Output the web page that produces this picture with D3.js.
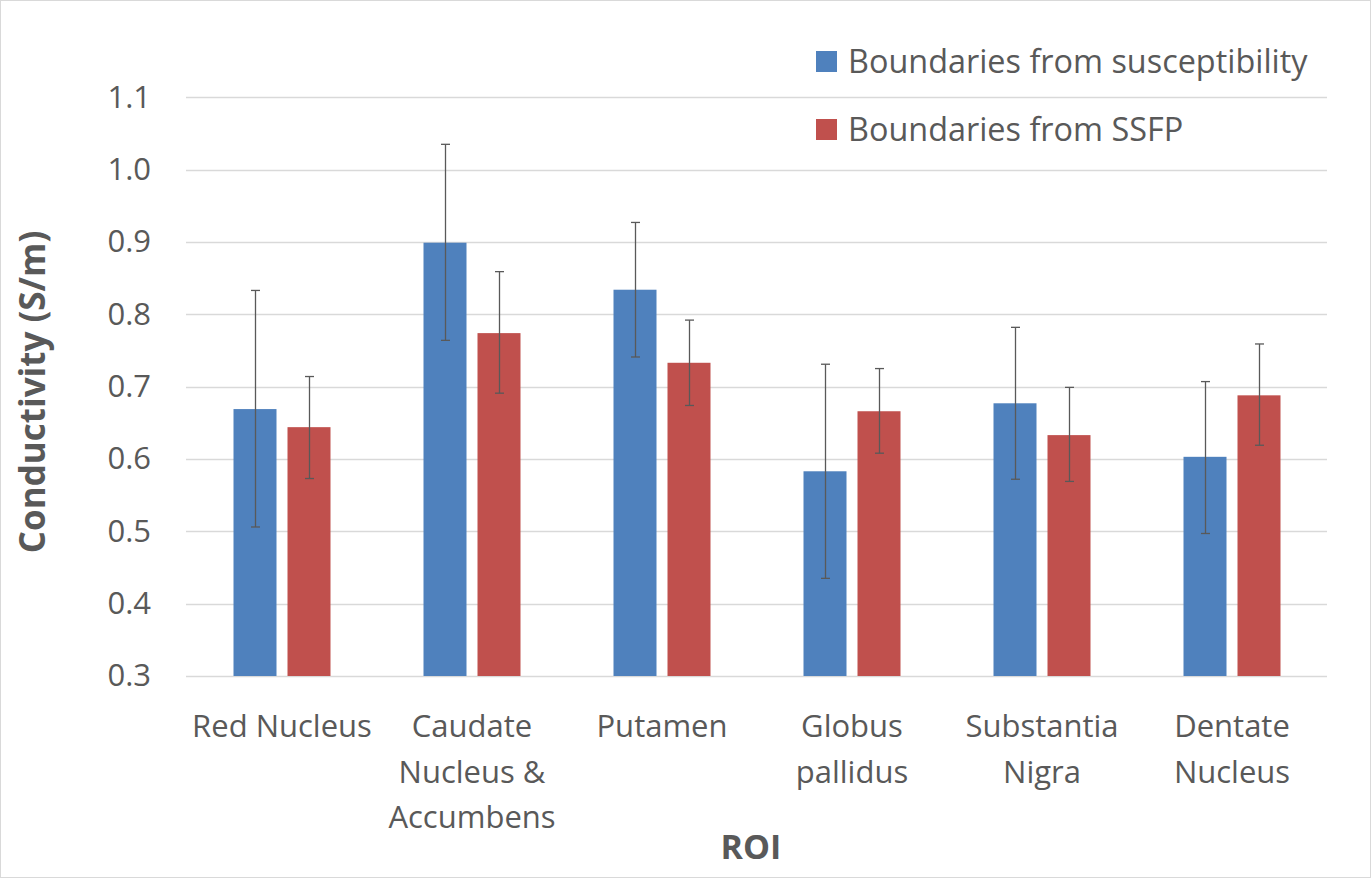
<!DOCTYPE html>
<html>
<head>
  <style>
    body { margin: 0; background: #fff; }
    text { font-family: "Open Sans", sans-serif; fill: #595959; }
  </style>
  <title>Conductivity by ROI</title>
</head>
<body>
  <script src="https://cdn.jsdelivr.net/npm/d3@7"></script>
  <script>
    // data
    var categories = [["Red Nucleus"], ["Caudate", "Nucleus &", "Accumbens"], ["Putamen"],
                      ["Globus", "pallidus"], ["Substantia", "Nigra"], ["Dentate", "Nucleus"]];
    var seriesNames = ["Boundaries from susceptibility", "Boundaries from SSFP"];
    var suscMean = [0.669, 0.899, 0.834, 0.583, 0.677, 0.603];
    var suscHigh = [0.833, 1.035, 0.927, 0.731, 0.782, 0.707];
    var suscLow  = [0.506, 0.764, 0.741, 0.435, 0.572, 0.497];
    var ssfpMean = [0.644, 0.774, 0.733, 0.666, 0.633, 0.688];
    var ssfpHigh = [0.714, 0.859, 0.792, 0.725, 0.699, 0.759];
    var ssfpLow  = [0.573, 0.691, 0.674, 0.608, 0.569, 0.619];
    var yTicks = [0.3, 0.4, 0.5, 0.6, 0.7, 0.8, 0.9, 1.0, 1.1];
    var colors = ["#4f81bd", "#c0504d"];

    var width = 1371, height = 878;
    var plotLeft = 187, plotRight = 1327, plotTop = 97.3, plotBottom = 676;

    var svg = d3.select("body").append("svg")
      .attr("width", width)
      .attr("height", height);

    // outer border
    svg.append("rect")
      .attr("x", 0.5).attr("y", 0.5)
      .attr("width", width - 1).attr("height", height - 1)
      .attr("fill", "none").attr("stroke", "#d9d9d9");

    var x = d3.scaleBand().domain(d3.range(categories.length)).range([plotLeft, plotRight]);
    var y = d3.scaleLinear().domain([0.3, 1.1]).range([plotBottom, plotTop]);

    var barW = 43, barGap = 11;

    // gridlines
    svg.append("g").selectAll("line")
      .data(yTicks)
      .enter().append("line")
      .attr("x1", plotLeft - 1).attr("x2", plotRight)
      .attr("y1", function(d) { return Math.round(y(d)) + 0.5; })
      .attr("y2", function(d) { return Math.round(y(d)) + 0.5; })
      .attr("stroke", "#d9d9d9").attr("stroke-width", 1.3);

    // y axis labels
    var yAxis = d3.axisLeft(y).tickValues(yTicks).tickFormat(d3.format(".1f")).tickSize(0).tickPadding(0);
    var ya = svg.append("g").attr("transform", "translate(151,0)").call(yAxis);
    ya.select(".domain").remove();
    ya.selectAll("text").attr("font-size", 31).style("font-family", "Open Sans").attr("fill", "#595959");

    var series = [
      { mean: suscMean, hi: suscHigh, lo: suscLow, off: -(barW + barGap) / 2 },
      { mean: ssfpMean, hi: ssfpHigh, lo: ssfpLow, off: (barW + barGap) / 2 }
    ];

    series.forEach(function(s, si) {
      var g = svg.append("g");
      g.selectAll("rect")
        .data(s.mean)
        .enter().append("rect")
        .attr("x", function(d, i) { return x(i) + x.bandwidth() / 2 + s.off - barW / 2; })
        .attr("y", function(d) { return y(d); })
        .attr("width", barW)
        .attr("height", function(d) { return plotBottom - y(d); })
        .attr("fill", colors[si]);

      // error bars
      var eb = svg.append("g").attr("stroke", "#595959").attr("stroke-width", 1.3);
      s.mean.forEach(function(d, i) {
        var cx = Math.round(x(i) + x.bandwidth() / 2 + s.off) + 0.5;
        eb.append("line").attr("x1", cx).attr("x2", cx).attr("y1", y(s.hi[i])).attr("y2", y(s.lo[i]));
        eb.append("line").attr("x1", cx - 4.5).attr("x2", cx + 4.5).attr("y1", y(s.hi[i])).attr("y2", y(s.hi[i]));
        eb.append("line").attr("x1", cx - 4.5).attr("x2", cx + 4.5).attr("y1", y(s.lo[i])).attr("y2", y(s.lo[i]));
      });
    });

    // category labels
    var cl = svg.append("g");
    categories.forEach(function(lines, i) {
      var t = cl.append("text")
        .attr("text-anchor", "middle")
        .attr("x", x(i) + x.bandwidth() / 2)
        .attr("y", 737)
        .attr("font-size", 31);
      lines.forEach(function(l, j) {
        t.append("tspan").attr("x", x(i) + x.bandwidth() / 2).attr("dy", j === 0 ? 0 : 45.5).text(l);
      });
    });

    // axis titles
    svg.append("text")
      .attr("x", 751).attr("y", 859)
      .attr("text-anchor", "middle")
      .attr("font-size", 34).attr("font-weight", "bold")
      .text("ROI");

    svg.append("text")
      .attr("transform", "translate(45,392) rotate(-90)")
      .attr("text-anchor", "middle")
      .attr("font-size", 35).attr("font-weight", "bold")
      .text("Conductivity (S/m)");

    // legend
    var lg = svg.append("g");
    seriesNames.forEach(function(n, i) {
      lg.append("rect")
        .attr("x", 816).attr("y", 51 + i * 68)
        .attr("width", 21).attr("height", 21)
        .attr("fill", colors[i]);
      lg.append("text")
        .attr("x", 848).attr("y", 73 + i * 68)
        .attr("font-size", 32.4)
        .text(n);
    });
  </script>
</body>
</html>
